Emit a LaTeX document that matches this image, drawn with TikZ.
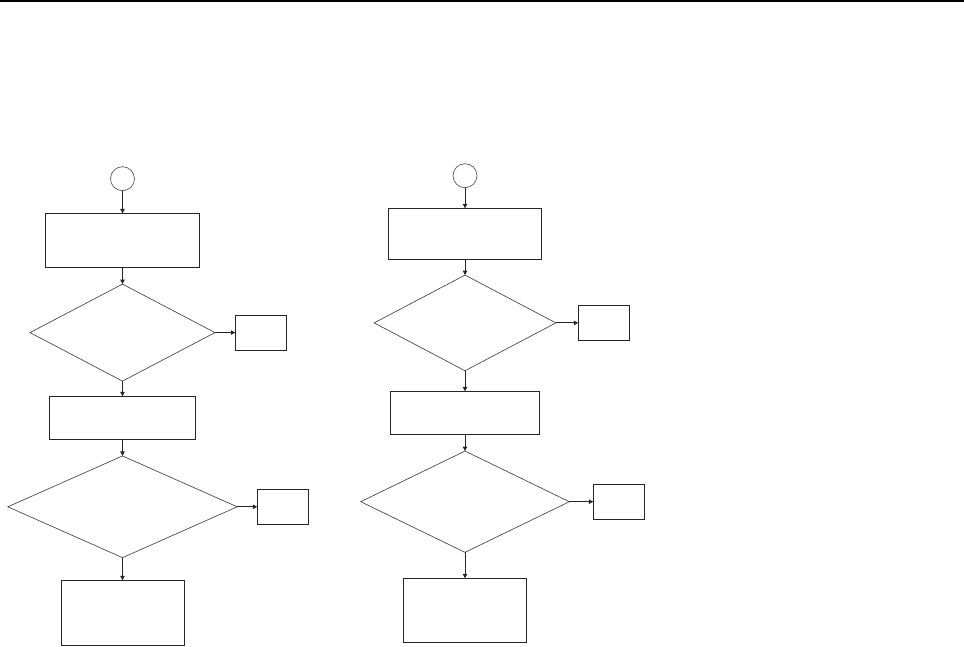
\documentclass[tikz,border=0pt]{standalone}
\usetikzlibrary{shapes.geometric,arrows.meta}
\begin{document}
\begin{tikzpicture}[x=1pt,y=-1pt,
  boxn/.style={draw=black!85,line width=1pt,rectangle,inner sep=0pt,outer sep=0pt},
  decn/.style={draw=black!70,line width=0.7pt,diamond,inner sep=0pt,outer sep=0pt},
  termn/.style={draw=black!65,line width=0.7pt,circle,inner sep=0pt,outer sep=0pt,minimum size=24pt},
  flow/.style={draw=black!85,line width=1pt,-{Triangle[length=4.5pt,width=4.5pt]}}]
\useasboundingbox (0,0) rectangle (964,646);
\fill[black] (0,0) rectangle (964,2.2);
% left column
\node[termn] (lc) at (122.5,178.7) {};
\node[boxn,minimum width=154pt,minimum height=54pt] (lb1) at (122.5,240.3) {};
\node[decn,minimum width=185pt,minimum height=97pt] (ld1) at (122.5,332.6) {};
\node[boxn,minimum width=51pt,minimum height=35pt] (ls1) at (260.8,332.6) {};
\node[boxn,minimum width=146.4pt,minimum height=43pt] (lb2) at (122.5,417.8) {};
\node[decn,minimum width=229.4pt,minimum height=101.7pt] (ld2) at (122.5,506.8) {};
\node[boxn,minimum width=51.4pt,minimum height=35pt] (ls2) at (283,506.8) {};
\node[boxn,minimum width=123pt,minimum height=65pt] (lb3) at (122.5,612.8) {};
\draw[flow] (lc) -- (lb1);
\draw[flow] (lb1) -- (ld1);
\draw[flow] (ld1.east) -- (ls1.west);
\draw[flow] (ld1.south) -- (lb2.north);
\draw[flow] (lb2) -- (ld2.north);
\draw[flow] (ld2.east) -- (ls2.west);
\draw[flow] (ld2.south) -- (lb3.north);
% right column
\node[termn] (rc) at (465,175.7) {};
\node[boxn,minimum width=153.4pt,minimum height=51pt] (rb1) at (465,233.8) {};
\node[decn,minimum width=181.7pt,minimum height=95.7pt] (rd1) at (465,322.9) {};
\node[boxn,minimum width=51pt,minimum height=35.4pt] (rs1) at (603.8,322.9) {};
\node[boxn,minimum width=149pt,minimum height=43pt] (rb2) at (465,412.8) {};
\node[decn,minimum width=208.6pt,minimum height=101.3pt] (rd2) at (465,501.7) {};
\node[boxn,minimum width=51.4pt,minimum height=35pt] (rs2) at (619,501.7) {};
\node[boxn,minimum width=123.4pt,minimum height=64pt] (rb3) at (465,610.3) {};
\draw[flow] (rc) -- (rb1);
\draw[flow] (rb1) -- (rd1);
\draw[flow] (rd1.east) -- (rs1.west);
\draw[flow] (rd1.south) -- (rb2.north);
\draw[flow] (rb2) -- (rd2.north);
\draw[flow] (rd2.east) -- (rs2.west);
\draw[flow] (rd2.south) -- (rb3.north);
\end{tikzpicture}
\end{document}
